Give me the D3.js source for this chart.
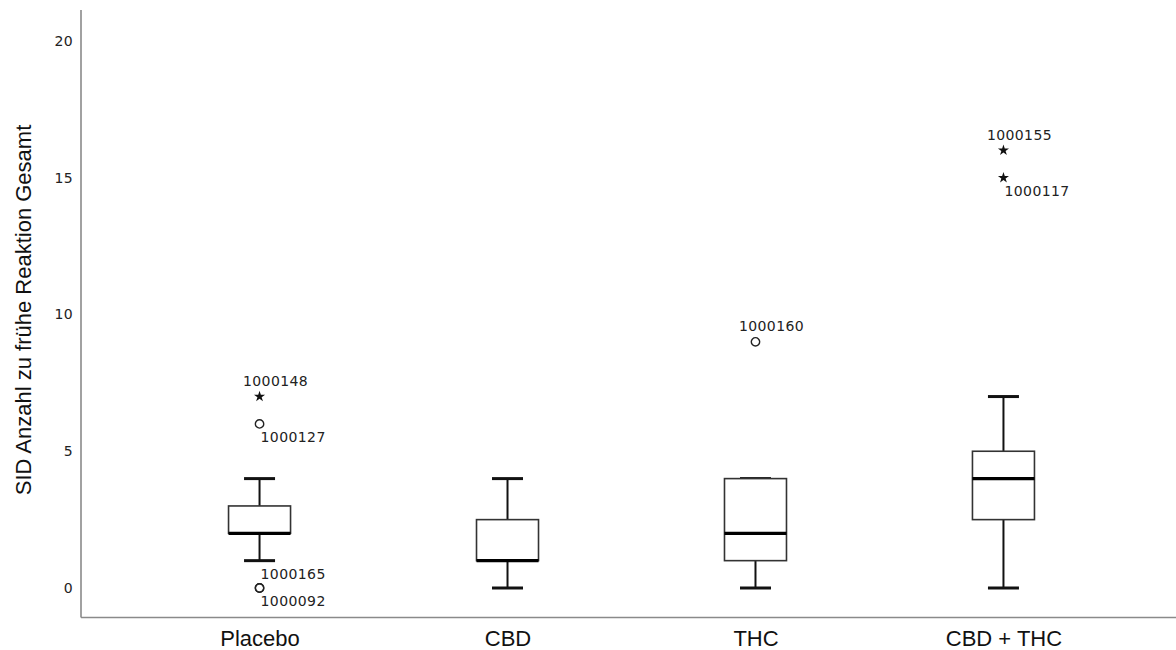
<!DOCTYPE html>
<html>
<head>
<meta charset="utf-8">
<script src="https://cdn.jsdelivr.net/npm/d3@7"></script>
<style>
  html, body { margin: 0; padding: 0; background: #fff; }
  svg { display: block; }
</style>
</head>
<body>
<svg id="chart" width="1176" height="650"></svg>
<script>
// Box plot summary per group
const categories   = ["Placebo", "CBD", "THC", "CBD + THC"];
const whiskerLow   = [1, 0, 0, 0];
const quartile1    = [2, 1, 1, 2.5];
const medians      = [2, 1, 2, 4];
const quartile3    = [3, 2.5, 4, 5];
const whiskerHigh  = [4, 4, 4, 7];

// Outlying cases: group, value, case id, type (mild = circle, extreme = star)
const outlierGroup = ["Placebo", "Placebo", "Placebo", "Placebo", "THC", "CBD + THC", "CBD + THC"];
const outlierValue = [7, 6, 0, 0, 9, 16, 15];
const outlierId    = ["1000148", "1000127", "1000165", "1000092", "1000160", "1000155", "1000117"];
const outlierKind  = ["extreme", "mild", "mild", "mild", "mild", "extreme", "extreme"];
const outlierLabelAt = ["above", "belowRight", "aboveRight", "belowRight", "above", "above", "belowRight"];

const yTicks = [0, 5, 10, 15, 20];
const yTitle = "SID Anzahl zu frühe Reaktion Gesamt";

const svg = d3.select("#chart");

const axisLeftX = 81, axisBottomY = 617.5, axisTopY = 10;

const y = d3.scaleLinear().domain([0, 20]).range([588, 41]);
const x = d3.scalePoint().domain(categories).range([81, 1182]).padding(0.72);

const boxW = 62, capW = 31;

// Axes lines
svg.append("line")
  .attr("x1", axisLeftX).attr("x2", axisLeftX)
  .attr("y1", axisTopY).attr("y2", axisBottomY)
  .attr("stroke", "#8a8a8a").attr("stroke-width", 1.6);
svg.append("line")
  .attr("x1", axisLeftX).attr("x2", 1176)
  .attr("y1", axisBottomY).attr("y2", axisBottomY)
  .attr("stroke", "#8a8a8a").attr("stroke-width", 1.6);

// Y tick labels
const yAxis = d3.axisLeft(y).tickValues(yTicks).tickSize(0).tickPadding(8);
const gy = svg.append("g").attr("transform", `translate(${axisLeftX},0)`).call(yAxis);
gy.select(".domain").remove();
gy.selectAll("text")
  .attr("font-family", "DejaVu Sans, sans-serif")
  .attr("font-size", 14)
  .attr("letter-spacing", 0.4)
  .attr("fill", "#222");

// X tick labels
const xAxis = d3.axisBottom(x).tickSize(0).tickPadding(0);
const gx = svg.append("g").attr("transform", `translate(0,${axisBottomY})`).call(xAxis);
gx.select(".domain").remove();
gx.selectAll("text")
  .attr("dy", null)
  .attr("y", 28)
  .attr("font-family", "Liberation Sans, Arial, sans-serif")
  .attr("font-size", 22)
  .attr("fill", "#111");

// Y axis title
svg.append("text")
  .attr("transform", `translate(31,310) rotate(-90)`)
  .attr("text-anchor", "middle")
  .attr("font-family", "Liberation Sans, Arial, sans-serif")
  .attr("font-size", 22)
  .attr("fill", "#111")
  .text(yTitle);

// Boxes
const boxes = categories.map((c, i) => ({
  c, lo: whiskerLow[i], q1: quartile1[i], med: medians[i], q3: quartile3[i], hi: whiskerHigh[i]
}));

const g = svg.append("g").selectAll("g").data(boxes).join("g");

// whiskers
g.append("line")
  .attr("x1", d => x(d.c)).attr("x2", d => x(d.c))
  .attr("y1", d => y(d.q3)).attr("y2", d => y(d.hi))
  .attr("stroke", "#111").attr("stroke-width", 2);
g.append("line")
  .attr("x1", d => x(d.c)).attr("x2", d => x(d.c))
  .attr("y1", d => y(d.q1)).attr("y2", d => y(d.lo))
  .attr("stroke", "#111").attr("stroke-width", 2);
// caps
g.append("line")
  .attr("x1", d => x(d.c) - capW / 2).attr("x2", d => x(d.c) + capW / 2)
  .attr("y1", d => y(d.hi)).attr("y2", d => y(d.hi))
  .attr("stroke", "#111").attr("stroke-width", 3);
g.append("line")
  .attr("x1", d => x(d.c) - capW / 2).attr("x2", d => x(d.c) + capW / 2)
  .attr("y1", d => y(d.lo)).attr("y2", d => y(d.lo))
  .attr("stroke", "#111").attr("stroke-width", 3);
// box
g.append("rect")
  .attr("x", d => x(d.c) - boxW / 2)
  .attr("width", boxW)
  .attr("y", d => y(d.q3))
  .attr("height", d => y(d.q1) - y(d.q3))
  .attr("fill", "#fff")
  .attr("stroke", "#333").attr("stroke-width", 1.6);
// median
g.append("line")
  .attr("x1", d => x(d.c) - boxW / 2).attr("x2", d => x(d.c) + boxW / 2)
  .attr("y1", d => y(d.med)).attr("y2", d => y(d.med))
  .attr("stroke", "#000").attr("stroke-width", 3.2);

// Outliers
const outliers = outlierValue.map((v, i) => ({
  c: outlierGroup[i], v, id: outlierId[i], kind: outlierKind[i], at: outlierLabelAt[i]
}));

const og = svg.append("g").selectAll("g").data(outliers).join("g")
  .attr("transform", d => `translate(${x(d.c)},${y(d.v)})`);

og.filter(d => d.kind === "mild").append("circle")
  .attr("r", 4.2)
  .attr("fill", "none")
  .attr("stroke", "#222").attr("stroke-width", 1.4);

og.filter(d => d.kind === "extreme").append("path")
  .attr("d", d3.symbol(d3.symbolStar, 38))
  .attr("fill", "#111");

og.append("text")
  .attr("font-family", "DejaVu Sans, sans-serif")
  .attr("font-size", 14)
  .attr("letter-spacing", 0.4)
  .attr("fill", "#222")
  .attr("dominant-baseline", "central")
  .attr("text-anchor", d => d.at === "above" ? "middle" : "start")
  .attr("x", d => d.at === "above" ? 16 : 1)
  .attr("y", d => d.at === "above" ? -15.5 : d.at === "aboveRight" ? -14 : 13)
  .text(d => d.id);
</script>
</body>
</html>
